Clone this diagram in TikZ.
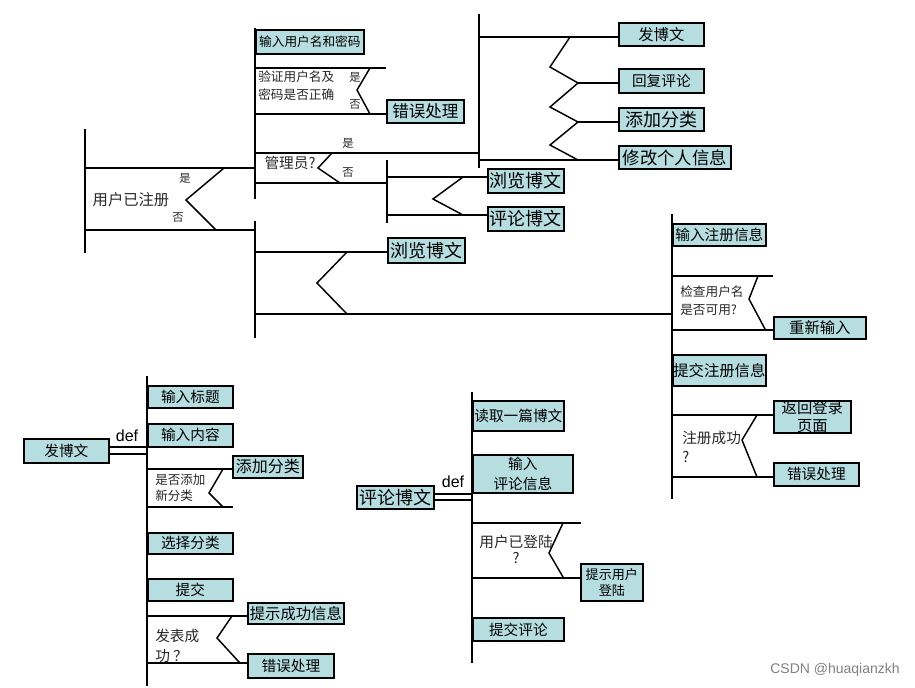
\documentclass[tikz,border=0pt]{standalone}
\usepackage{fontspec}
\setmainfont{Noto Sans CJK SC}
\setsansfont{Liberation Sans}
\definecolor{boxfill}{RGB}{182,221,224}
\definecolor{inktext}{RGB}{40,40,40}
\newcommand\fz[2]{\fontsize{#1}{#2}\selectfont}
\tikzset{
  ln/.style={line width=1.1pt, black, line cap=rect},
  box/.style={draw=black, line width=1.3pt, fill=boxfill, inner sep=0pt,
              text=black, align=center, anchor=north west},
  wh/.style 2 args={minimum width=#1*0.75pt, minimum height=#2*0.75pt},
  lab/.style={inner sep=0pt, text=inktext},
  yn/.style={lab, font=\fz{8.5}{10}},
}
\begin{document}
\begin{tikzpicture}[x=0.75pt,y=-0.75pt]
\useasboundingbox[fill=white] (0,0) rectangle (915,687);

% ---------------- login / main menu ----------------
\node[box, wh={108}{24}, font=\fz{9.5}{11}] (inlogin) at (255,29) {输入用户名和密码};
\node[box, wh={77}{23}, font=\fz{12.4}{14}] (err1) at (386,99) {错误处理};
\node[box, wh={76}{24}, font=\fz{13.5}{15}] (browseA) at (487,168) {浏览博文};
\node[box, wh={76}{24}, font=\fz{13.5}{15}] (commentA) at (487,206) {评论博文};
\node[box, wh={85}{23}, font=\fz{11.5}{13}] (post) at (618,22) {发博文};
\node[box, wh={85}{24}, font=\fz{11}{13}] (reply) at (618,68) {回复评论};
\node[box, wh={85}{23}, font=\fz{13.5}{15}] (addcat) at (618,107) {添加分类};
\node[box, wh={112}{23}, font=\fz{13}{15}] (profile) at (618,145) {修改个人信息};
\node[box, wh={77}{25}, font=\fz{13.5}{15}] (browseB) at (387,237) {浏览博文};

% user registered?
\draw[ln] (85,130) -- (85,252);
\draw[ln] (85,168) -- (255,168);
\draw[ln] (85,230) -- (255,230);
\draw[ln] (224,168) -- (186,200) -- (216,230);
\node[lab, font=\fz{11.5}{13}] (qreg) at (131,200) {用户已注册};
\node[yn] (yreg) at (185,178) {是};
\node[yn] (nreg) at (178,218) {否};

% yes branch
\draw[ln] (inlogin.north west) -- (255,198);
\draw[ln] (255,68) -- (385,68);
\draw[ln] (255,114) -- (err1.west |- 0,114);
\draw[ln] (370,68) -- (357,90) -- (370,114);
\node[lab, anchor=west, align=left, font=\fz{9.5}{13.5}] (qpwd) at (258,86) {验证用户名及\\密码是否正确};
\node[yn] (ypwd) at (355,77) {是};
\node[yn] (npwd) at (355,105) {否};

\draw[ln] (255,153) -- (479,153);
\draw[ln] (255,183) -- (387,183);
\draw[ln] (332,153) -- (318,168) -- (340,183);
\node[lab, font=\fz{11}{13}] (qadm) at (290,163) {管理员?};
\node[yn] (yadm) at (348,143) {是};
\node[yn] (nadm) at (348,173) {否};

% ordinary user
\draw[ln] (387,161) -- (387,222);
\draw[ln] (387,177) -- (browseA.west |- 0,177);
\draw[ln] (387,215) -- (commentA.west |- 0,215);
\draw[ln] (463,177) -- (433,199) -- (463,215);

% administrator
\draw[ln] (479,15) -- (479,167);
\draw[ln] (479,37) -- (post.west |- 0,37);
\draw[ln] (479,160) -- (profile.west |- 0,160);
\draw[ln] (570,37) -- (550,67) -- (578,83) -- (550,107) -- (578,122) -- (550,145) -- (578,160);
\draw[ln] (578,83) -- (reply.west |- 0,83);
\draw[ln] (578,122) -- (addcat.west |- 0,122);

% no branch
\draw[ln] (255,222) -- (255,337);
\draw[ln] (255,252) -- (browseB.west |- 0,252);
\draw[ln] (255,314) -- (672,314);
\draw[ln] (347,252) -- (317,283) -- (347,314);

% ---------------- registration ----------------
\node[box, wh={93}{22}, font=\fz{11}{13}] (reginfo) at (672,223) {输入注册信息};
\node[box, wh={92}{22}, font=\fz{11.5}{13}] (retry) at (773,316) {重新输入};
\node[box, wh={93}{31}, font=\fz{11.5}{13}] (submitreg) at (672,354) {提交注册信息};
\node[box, wh={77}{31}, font=\fz{11.5}{13.5}] (backlogin) at (773,400) {返回登录\\页面};
\node[box, wh={85}{23}, font=\fz{11}{13}] (err2) at (773,462) {错误处理};

\draw[ln] (672,215) -- (672,498);
\draw[ln] (672,276) -- (772,276);
\draw[ln] (672,330) -- (retry.west |- 0,330);
\draw[ln] (758,276) -- (749,299) -- (765,329);
\node[lab, anchor=west, align=left, font=\fz{9.5}{13.5}] (qname) at (680,301) {检查用户名\\是否可用?};
\draw[ln] (672,415) -- (backlogin.west |- 0,415);
\draw[ln] (672,477) -- (err2.west |- 0,477);
\draw[ln] (757,415) -- (742,440) -- (757,477);
\node[lab, anchor=west, align=left, font=\fz{11}{14}] (qregok) at (682,447) {注册成功\\?};

% ---------------- post a blog ----------------
\node[box, wh={85}{24}, font=\fz{11}{13}] (postdef) at (23,438) {发博文};
\node[box, wh={85}{22}, font=\fz{11}{13}] (title) at (147,385) {输入标题};
\node[box, wh={85}{23}, font=\fz{11}{13}] (content) at (147,423) {输入内容};
\node[box, wh={70}{22}, font=\fz{12}{14}] (addcat2) at (232,455) {添加分类};
\node[box, wh={85}{21}, font=\fz{11}{13}] (pickcat) at (147,532) {选择分类};
\node[box, wh={85}{22}, font=\fz{11}{13}] (submit) at (147,578) {提交};
\node[box, wh={96}{21}, font=\fz{11.5}{13}] (okmsg) at (247,602) {提示成功信息};
\node[box, wh={86}{24}, font=\fz{11}{13}] (err3) at (247,653) {错误处理};

\draw[ln] (147,377) -- (147,685);
\draw[ln] (postdef.east |- 0,447) -- (147,447);
\draw[ln] (postdef.east |- 0,454) -- (147,454);
\node[lab, font=\sffamily\fz{12}{14}, text=black] (def1) at (127,436) {def};
\draw[ln] (147,469) -- (addcat2.west |- 0,469);
\draw[ln] (147,507) -- (232,507);
\draw[ln] (223,469) -- (209,493) -- (223,507);
\node[lab, anchor=west, align=left, font=\fz{9.4}{12}] (qnewcat) at (155,488) {是否添加\\新分类};
\draw[ln] (147,616) -- (okmsg.west |- 0,616);
\draw[ln] (147,663) -- (err3.west |- 0,663);
\draw[ln] (232,616) -- (217,638) -- (239,662);
\node[lab, anchor=west, align=left, font=\fz{11}{15}] (qposted) at (155,646) {发表成\\功 ？};

% ---------------- comment on a blog ----------------
\node[box, wh={77}{23}, font=\fz{13.5}{15}] (commentdef) at (356,485) {评论博文};
\node[box, wh={91}{30}, font=\fz{11}{13}] (readone) at (472,400) {读取一篇博文};
\node[box, wh={100}{38}, font=\fz{11}{15}] (incomment) at (472,454) {输入\\评论信息};
\node[box, wh={62}{37}, font=\fz{9.8}{11.5}] (pleaselogin) at (580,563) {提示用户\\登陆};
\node[box, wh={91}{23}, font=\fz{11}{13}] (submitcomment) at (472,617) {提交评论};

\draw[ln] (472,393) -- (472,662);
\draw[ln] (commentdef.east |- 0,494) -- (472,494);
\draw[ln] (commentdef.east |- 0,500) -- (472,500);
\node[lab, font=\sffamily\fz{12}{14}, text=black] (def2) at (453,482) {def};
\draw[ln] (472,523) -- (580,523);
\draw[ln] (472,578) -- (pleaselogin.west |- 0,578);
\draw[ln] (563,523) -- (549,553) -- (563,577);
\node[lab, align=center, font=\fz{11}{12}] (qlogged) at (516,549) {用户已登陆\\?};

% watermark
\node[anchor=east, inner sep=0pt, text=black!50, font=\sffamily\fz{10.5}{12}] (mark) at (900,670) {CSDN @huaqianzkh};
\end{tikzpicture}
\end{document}
